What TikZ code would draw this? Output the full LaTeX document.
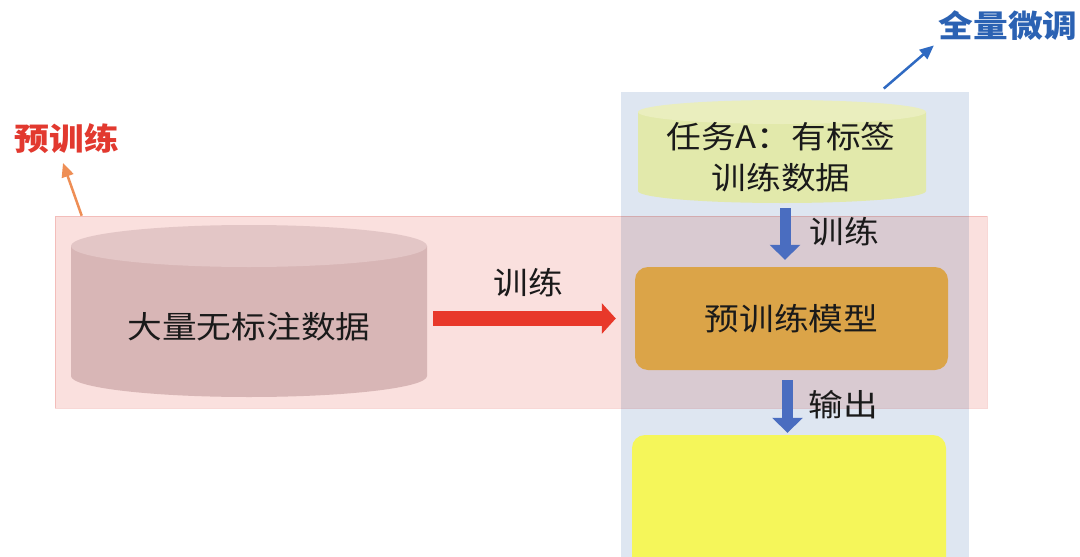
\documentclass[tikz,border=0pt]{standalone}
\usepackage{fontspec}
\newfontfamily\cjk{Noto Sans CJK SC}[FakeStretch=1.12]
\usetikzlibrary{arrows.meta}
\definecolor{panelblue}{HTML}{DEE6F1}
\definecolor{bandpink}{HTML}{FAE0DE}
\definecolor{bandline}{HTML}{F8D8D6}
\definecolor{rawbody}{HTML}{D8B6B6}
\definecolor{rawtop}{HTML}{E3C6C6}
\definecolor{taskbody}{HTML}{E2E9AB}
\definecolor{tasktop}{HTML}{EAEEBE}
\definecolor{ptorange}{HTML}{DBA448}
\definecolor{outyellow}{HTML}{F5F65A}
\definecolor{blockblue}{HTML}{4A6DC0}
\definecolor{trainred}{HTML}{E8382A}
\definecolor{titlered}{HTML}{E2392F}
\definecolor{titleblue}{HTML}{2B62B3}
\definecolor{thinorange}{HTML}{EE8E55}
\definecolor{thinblue}{HTML}{2F6AC2}
\definecolor{inkblack}{HTML}{1A1A1A}

\begin{document}
\begin{tikzpicture}[x=1pt,y=-1pt,
  every node/.style={font=\cjk\fontsize{31}{41}\selectfont,text=inkblack,inner sep=3pt},
  plainbox/.style={minimum width=#1,inner sep=0pt},
  roundbox/.style={rounded corners=13pt,inner sep=0pt},
  title/.style={font=\cjk\fontsize{31}{41}\selectfont\bfseries},
  blockarrow/.style={draw=blockblue,line width=11pt,-{Triangle[width=30pt,length=15pt]}},
  thinarrow/.style={line width=2.5pt,-{Triangle[width=12pt,length=14pt]}}]
\useasboundingbox (0,0) rectangle (1080,557);
\clip (0,0) rectangle (1080,557);
\fill[white] (0,0) rectangle (1080,557);

% fine-tuning panel and pre-training band
\node[plainbox=348pt,minimum height=508pt,fill=panelblue] (finetune) at (795,346) {};
\begin{scope}[blend mode=multiply]
\node[plainbox=932pt,minimum height=192pt,fill=bandpink,draw=bandline,line width=0.6pt] (pretrain) at (521,312) {};
\end{scope}

% unlabeled data store
\fill[rawbody] (71,246) -- (71,376) arc[start angle=180,end angle=0,x radius=178,y radius=21] -- (427,246) -- cycle;
\fill[rawtop] (249,246) ellipse[x radius=178,y radius=21];
\node[plainbox=356pt,minimum height=141pt] (rawdata) at (249,326.5) {大量无标注数据};

% labeled task data store
\fill[taskbody] (638,112) -- (638,191) arc[start angle=180,end angle=0,x radius=144,y radius=12] -- (926,112) -- cycle;
\fill[tasktop] (782,112) ellipse[x radius=144,y radius=12];
\node[plainbox=288pt,minimum height=103pt] (taskdb) at (782,151.5) {};
\node[align=center] (taskdata) at (781,157) {任务A：有标签\\训练数据};

% models
\node[roundbox,fill=ptorange,minimum width=313pt,minimum height=103pt] (ptmodel) at (791.5,318.5) {预训练模型};
\node[roundbox,fill=outyellow,minimum width=314pt,minimum height=145pt] (outmodel) at (789,507.5) {};

% connectors
\draw[draw=trainred,line width=15pt,-{Triangle[width=30pt,length=14pt]},shorten <=6pt,shorten >=19pt]
  (rawdata.east |- ptmodel.west) -- (ptmodel.west);
\node (trainpt) at (528,283) {训练};
\draw[blockarrow,shorten <=5pt,shorten >=7pt] ([xshift=3pt]taskdb.south) -- ([xshift=3pt]taskdb.south |- ptmodel.north);
\node (trainft) at (844,232) {训练};
\draw[blockarrow,shorten <=10pt,shorten >=2pt] ([xshift=-4pt]ptmodel.south) -- ([xshift=-4pt]ptmodel.south |- outmodel.north);
\node (output) at (843,405) {输出};

% titles
\node[title,text=titlered] (ptlabel) at (67,139) {预训练};
\node[title,text=titleblue] (ftlabel) at (1008,26) {全量微调};
\draw[thinarrow,draw=thinorange,fill=thinorange,shorten >=6pt] ([xshift=27pt]pretrain.north west) -- ([xshift=-6pt]ptlabel.south);
\draw[thinarrow,draw=thinblue,fill=thinblue,shorten <=5pt,shorten >=2pt] ([xshift=85pt]finetune.north) -- (ftlabel.south west);
\end{tikzpicture}
\end{document}
